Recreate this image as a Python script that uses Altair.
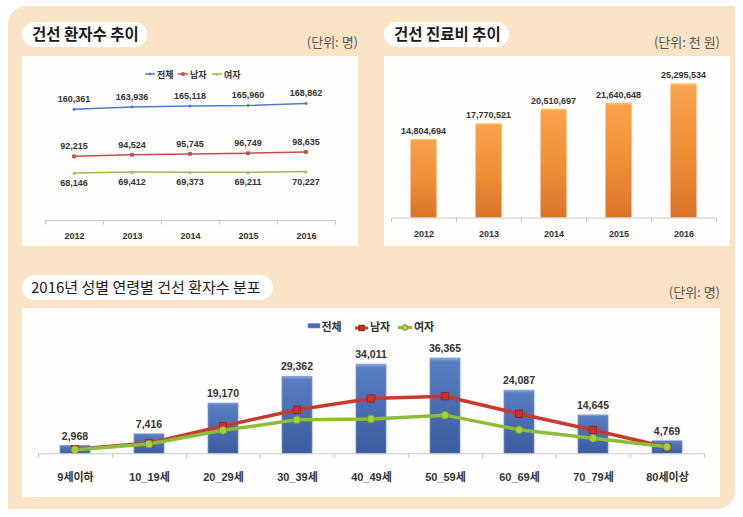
import altair as alt
import pandas as pd

# ---------------- data ----------------
years = ["2012", "2013", "2014", "2015", "2016"]
patients_total = [160361, 163936, 165118, 165960, 168862]
patients_male = [92215, 94524, 95745, 96749, 98635]
patients_female = [68146, 69412, 69373, 69211, 70227]

costs = [14804694, 17770521, 20510697, 21640648, 25295534]

age_groups = ["9세이하", "10_19세", "20_29세", "30_39세", "40_49세",
              "50_59세", "60_69세", "70_79세", "80세이상"]
age_total = [2968, 7416, 19170, 29362, 34011, 36365, 24087, 14645, 4769]
age_male = [1580, 3900, 10400, 16600, 20900, 21800, 15100, 8900, 2300]
age_female = [1388, 3516, 8770, 12762, 13111, 14565, 8987, 5745, 2469]

series_names = ["전체", "남자", "여자"]
titles = ["건선 환자수 추이", "건선 진료비 추이", "2016년 성별 연령별 건선 환자수 분포"]
units = ["(단위: 명)", "(단위: 천 원)", "(단위: 명)"]

# ---------------- tables ----------------
trend = pd.DataFrame({
    "year": years * 3,
    "series": [s for s in series_names for _ in years],
    "value": patients_total + patients_male + patients_female,
})
cost_df = pd.DataFrame({"year": years, "cost": costs})
age_df = pd.DataFrame({"age": age_groups, "total": age_total})
age_male_df = pd.DataFrame({"age": age_groups, "value": age_male})
age_female_df = pd.DataFrame({"age": age_groups, "value": age_female})

# ---------------- style ----------------
KR = "Noto Sans CJK KR"
NUM = "Liberation Sans, Noto Sans CJK KR"
PEACH = "#FBE3C6"
PANEL = "#FFFEFC"
TXT = "#333333"
BLUE_L, RED_L, GREEN_L = "#4F7BC8", "#C0504D", "#9BBB59"
RED, GREEN = "#C83A30", "#8DBB3A"

one = pd.DataFrame({"k": [0]})


def box(x, x2, y, y2, fill, **kw):
    return alt.Chart(one).mark_rect(fill=fill, **kw).encode(
        x=alt.value(x), x2=alt.value(x2), y=alt.value(y), y2=alt.value(y2))


def label(text, x, y, **kw):
    return alt.Chart(one).mark_text(text=text, **kw).encode(
        x=alt.value(x), y=alt.value(y))


def seg(x, x2, y, color, width):
    return alt.Chart(one).mark_rule(color=color, strokeWidth=width).encode(
        x=alt.value(x), x2=alt.value(x2), y=alt.value(y))


def dot(x, y, shape, size, fill, stroke=None):
    kw = dict(filled=True, shape=shape, size=size, fill=fill, opacity=1)
    if stroke:
        kw.update(stroke=stroke, strokeWidth=1)
    return alt.Chart(one).mark_point(**kw).encode(x=alt.value(x), y=alt.value(y))


def xaxis(axis_y, pad, size):
    return alt.Axis(orient="bottom", offset=axis_y - 517, title=None, labelAngle=0,
                    labelFont=NUM, labelFontWeight="bold", labelFontSize=size,
                    labelColor=TXT, labelPadding=pad, domainColor="#c8c8c8",
                    tickColor="#c8c8c8", tickSize=4, tickBand="extent", grid=False,
                    zindex=1)


# ---------------- scales ----------------
X_TL = alt.Scale(type="band", domain=years, range=[45, 335], paddingInner=0, paddingOuter=0)
Y_TL = alt.Scale(domain=[0, 200000], range=[220, 82], nice=False)
X_TR = alt.Scale(type="band", domain=years, range=[391, 716], paddingInner=0, paddingOuter=0)
Y_TR = alt.Scale(domain=[0, 30000000], range=[217.5, 58.3], nice=False)
X_B = alt.Scale(type="band", domain=age_groups, range=[38, 704], paddingInner=0, paddingOuter=0)
Y_B = alt.Scale(domain=[0, 40000], range=[453.3, 348.5], nice=False)

layers = []

# ---------------- frame ----------------
layers += [
    box(8, 735, 6, 509, PEACH, cornerRadiusTopLeft=18, cornerRadiusBottomRight=18),
    box(22, 358, 56, 246, PANEL),
    box(384, 730, 56, 246, PANEL),
    box(22, 720, 308, 497, PANEL),
    box(22, 147, 22, 47, "white", cornerRadius=12.5),
    box(384, 509, 22, 47, "white", cornerRadius=12.5),
    box(22, 273, 275, 300, "white", cornerRadius=12.5),
    label(titles[0], 32, 35, font=KR, fontSize=15.5, fontWeight="bold", color="#1a1a1a",
          align="left", baseline="middle"),
    label(titles[1], 394, 35, font=KR, fontSize=15.5, fontWeight="bold", color="#1a1a1a",
          align="left", baseline="middle"),
    label(titles[2], 31, 287.5, font=KR, fontSize=15, color="#1a1a1a",
          align="left", baseline="middle"),
    label(units[0], 358, 43, font=KR, fontSize=13, color="#555555", align="right",
          baseline="middle"),
    label(units[1], 720, 43, font=KR, fontSize=13, color="#555555", align="right",
          baseline="middle"),
    label(units[2], 720, 293, font=KR, fontSize=13, color="#555555", align="right",
          baseline="middle"),
]

# ---------------- patients trend (lines) ----------------
color_tl = alt.Color("series:N", scale=alt.Scale(domain=series_names,
                                                 range=[BLUE_L, RED_L, GREEN_L]), legend=None)
shape_tl = alt.Shape("series:N", scale=alt.Scale(domain=series_names,
                                                 range=["diamond", "square", "triangle-up"]),
                     legend=None)
base_tl = alt.Chart(trend)
layers += [
    base_tl.mark_line(strokeWidth=1.5).encode(
        x=alt.X("year:N", scale=X_TL, axis=xaxis(220, 7, 9)),
        y=alt.Y("value:Q", scale=Y_TL, axis=None),
        color=color_tl, detail="series:N"),
    base_tl.mark_point(filled=True, size=14, opacity=1).encode(
        x=alt.X("year:N", scale=X_TL, axis=None),
        y=alt.Y("value:Q", scale=Y_TL, axis=None),
        color=color_tl, shape=shape_tl),
    base_tl.transform_filter(alt.datum.series != series_names[2]).mark_text(
        dy=-10, font=NUM, fontWeight="bold", fontSize=9, color=TXT).encode(
        x=alt.X("year:N", scale=X_TL, axis=None),
        y=alt.Y("value:Q", scale=Y_TL, axis=None),
        text=alt.Text("value:Q", format=",")),
    base_tl.transform_filter(alt.datum.series == series_names[2]).mark_text(
        dy=10, font=NUM, fontWeight="bold", fontSize=9, color=TXT).encode(
        x=alt.X("year:N", scale=X_TL, axis=None),
        y=alt.Y("value:Q", scale=Y_TL, axis=None),
        text=alt.Text("value:Q", format=",")),
]
# legend
for name, col, shp, x0 in zip(series_names, [BLUE_L, RED_L, GREEN_L],
                              ["diamond", "square", "triangle-up"], [145, 178, 212]):
    layers += [
        seg(x0, x0 + 10, 74, col, 1.5),
        dot(x0 + 5, 74, shp, 12, col),
        label(name, x0 + 12, 74.5, font=KR, fontSize=9, fontWeight="bold", color=TXT,
              align="left", baseline="middle"),
    ]

# ---------------- medical cost (bars) ----------------
orange = alt.Gradient(gradient="linear", x1=0, y1=0, x2=0, y2=1, stops=[
    alt.GradientStop(color="#FFCB66", offset=0),
    alt.GradientStop(color="#F7A24A", offset=0.025),
    alt.GradientStop(color="#F18F37", offset=0.5),
    alt.GradientStop(color="#DC7428", offset=1),
])
base_tr = alt.Chart(cost_df)
layers += [
    base_tr.mark_bar(width=26, color=orange).encode(
        x=alt.X("year:N", scale=X_TR, axis=xaxis(217.5, 7.5, 9)),
        y=alt.Y("cost:Q", scale=Y_TR, axis=None)),
    base_tr.mark_text(dy=-8, font=NUM, fontWeight="bold", fontSize=9, color=TXT).encode(
        x=alt.X("year:N", scale=X_TR, axis=None),
        y=alt.Y("cost:Q", scale=Y_TR, axis=None),
        text=alt.Text("cost:Q", format=",")),
]

# ---------------- 2016 by age group ----------------
blue = alt.Gradient(gradient="linear", x1=0, y1=0, x2=0, y2=1, stops=[
    alt.GradientStop(color="#8FAADC", offset=0),
    alt.GradientStop(color="#5A7EC2", offset=0.04),
    alt.GradientStop(color="#4A6DB2", offset=0.5),
    alt.GradientStop(color="#3B5C9E", offset=1),
])
layers += [
    alt.Chart(age_df).mark_bar(width=30, color=blue, stroke="#7592CB", strokeWidth=0.8).encode(
        x=alt.X("age:N", scale=X_B, axis=xaxis(453.3, 14, 11)),
        y=alt.Y("total:Q", scale=Y_B, axis=None)),
    alt.Chart(age_df).mark_text(dy=-9, font=NUM, fontWeight="bold", fontSize=10.5,
                                color=TXT).encode(
        x=alt.X("age:N", scale=X_B, axis=None),
        y=alt.Y("total:Q", scale=Y_B, axis=None),
        text=alt.Text("total:Q", format=",")),
    alt.Chart(age_male_df).mark_line(color=RED, strokeWidth=3.5).encode(
        x=alt.X("age:N", scale=X_B, axis=None),
        y=alt.Y("value:Q", scale=Y_B, axis=None)),
    alt.Chart(age_male_df).mark_point(shape="square", filled=True, size=55, fill="#C8312C",
                                      stroke="#8E1E1A", strokeWidth=0.8, opacity=1).encode(
        x=alt.X("age:N", scale=X_B, axis=None),
        y=alt.Y("value:Q", scale=Y_B, axis=None)),
    alt.Chart(age_female_df).mark_line(color=GREEN, strokeWidth=3.5).encode(
        x=alt.X("age:N", scale=X_B, axis=None),
        y=alt.Y("value:Q", scale=Y_B, axis=None)),
    alt.Chart(age_female_df).mark_point(shape="circle", filled=True, size=60, fill="#A7CF3E",
                                        stroke="#6F9A25", strokeWidth=0.8, opacity=1).encode(
        x=alt.X("age:N", scale=X_B, axis=None),
        y=alt.Y("value:Q", scale=Y_B, axis=None)),
]
# legend
layers += [
    box(308, 320, 323.5, 328, "#4A6DB2", stroke="#7592CB", strokeWidth=0.6),
    label(series_names[0], 321.5, 328, font=KR, fontSize=11, fontWeight="bold", color=TXT,
          align="left", baseline="middle"),
    seg(355, 368, 328, RED, 3),
    dot(361.5, 328, "square", 30, "#C8312C", "#8E1E1A"),
    label(series_names[1], 370, 328, font=KR, fontSize=11, fontWeight="bold", color=TXT,
          align="left", baseline="middle"),
    seg(398, 412, 327.5, GREEN, 3),
    dot(405, 327.5, "circle", 32, "#A7CF3E", "#6F9A25"),
    label(series_names[2], 414, 328, font=KR, fontSize=11, fontWeight="bold", color=TXT,
          align="left", baseline="middle"),
]

chart = alt.layer(*layers).resolve_scale(
    x="independent", y="independent", color="independent", shape="independent"
).properties(
    width=743, height=517, autosize=alt.AutoSizeParams(type="none"), padding=0,
    background="white",
).configure_view(stroke=None)

chart.save("out.html", embed_options={"renderer": "svg", "actions": False})
